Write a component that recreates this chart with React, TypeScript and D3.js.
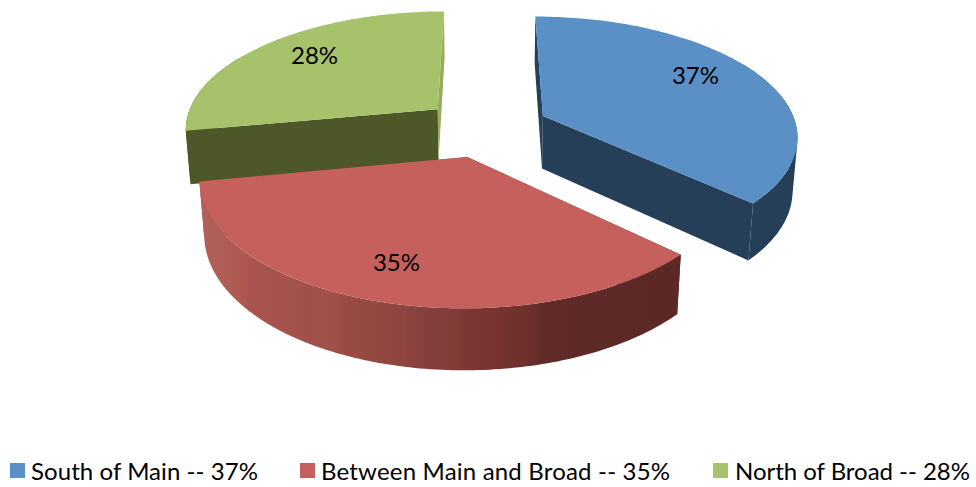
import React from 'react';
import * as d3 from 'd3';

const categories = ['South of Main', 'Between Main and Broad', 'North of Broad'];
const values = [37, 35, 28];
const topColors = ['#5b90c6', '#c6605c', '#a6c26a'];
const startFaceColors = ['#24405a', '#5c2825', '#4d5727'];
const endFaceColors = ['#253f59', '#8c4340', '#95ad5c'];
const outerColors = ['#253f59', 'url(#redRim)', '#4d5727'];

// shading along the red rim, read at these screen x positions
const redRimX = [205, 240, 252, 283, 312, 330, 345, 365, 393, 405, 430, 450, 470, 500, 530, 545, 680];
const redRimColors = ['#b0605a', '#ae5a50', '#aa534f', '#a5534c', '#a14f4a', '#a15248', '#9b4a44', '#974a42', '#924440', '#8f4540', '#843e3c', '#843f3a', '#7b3634', '#76332f', '#6c302c', '#5f2a27', '#5c2825'];
const rimOffset = d3.scaleLinear().domain([205, 680]).range([0, 1]);

// where the data labels sit on each slice, degrees clockwise from the back
const labelAngles = [60, 197.5, 313.5];
const labelRadius = 0.76;

const legendSwatchX = [10, 300, 713];
const legendTextX = [31, 321, 735];
const legendTextWidth = [227, 349, 235];

const width = 976;
const height = 487;
const explodeX = 0.25;
const explodeY = 0.25;

// perspective camera: x right, y to the back, z down
const cx = 485.5;
const cy = 127.5;
const scaleX = 254;
const scaleY = 118;
const scaleZ = 54;
const persY = 0.154;
const persZ = 0.016;

const project = (x: number, y: number, z: number): [number, number] => {
  const w = 1 + persY * y + persZ * z;
  return [cx + (x * scaleX) / w, cy + (-y * scaleY + z * scaleZ) / w];
};

const line = d3.line();

const pie = d3.pie<number>().sort(null);
const arcs = pie(values);

const App = () => {
  // back slices first so the red one overlaps the green rim
  const order = [2, 0, 1];

  return (
    <svg
      width={width}
      height={height}
      style={{ position: 'absolute', left: 0, top: 0, background: '#fff' }}
      fontFamily="Lato, 'Open Sans', sans-serif"
    >
      <defs>
        <linearGradient id="redRim" gradientUnits="userSpaceOnUse" x1={205} x2={680} y1={0} y2={0}>
          {redRimX.map((x, i) => (
            <stop key={x} offset={rimOffset(x)} stopColor={redRimColors[i]} />
          ))}
        </linearGradient>
      </defs>
      {order.map(i => {
        const a = arcs[i];
        const mid = (a.startAngle + a.endAngle) / 2;
        const ox = explodeX * Math.sin(mid);
        const oy = explodeY * Math.cos(mid);
        const rim = (t: number): [number, number] => [ox + Math.sin(t), oy + Math.cos(t)];
        const ts = d3.range(a.startAngle, a.endAngle, Math.PI / 180).concat(a.endAngle);
        const top = ts.map(t => project(...rim(t), 0));
        const apexTop = project(ox, oy, 0);
        const apexBottom = project(ox, oy, 1);
        const face = (t: number) => [apexTop, project(...rim(t), 0), project(...rim(t), 1), apexBottom] as [number, number][];

        // only the front of the rim can be seen; quads wound the same way so
        // the fold at the silhouette fills and there are no seams between steps
        const front = ts.filter(t => Math.cos(t) < 0.5);
        const rimPath = front
          .slice(1)
          .map((t, j) => {
            const quad: [number, number][] = [
              project(...rim(front[j]), 0),
              project(...rim(t), 0),
              project(...rim(t), 1),
              project(...rim(front[j]), 1),
            ];
            if (d3.polygonArea(quad) < 0) quad.reverse();
            return line(quad) + 'Z';
          })
          .join('');

        return (
          <g key={categories[i]}>
            <path d={line(face(a.startAngle)) + 'Z'} fill={startFaceColors[i]} />
            <path d={line(face(a.endAngle)) + 'Z'} fill={endFaceColors[i]} />
            <path d={rimPath} fill={outerColors[i]} />
            <path d={line([apexTop, ...top]) + 'Z'} fill={topColors[i]} />
          </g>
        );
      })}
      {order.map(i => {
        const a = arcs[i];
        const mid = (a.startAngle + a.endAngle) / 2;
        const t = (labelAngles[i] * Math.PI) / 180;
        const [lx, ly] = project(
          explodeX * Math.sin(mid) + labelRadius * Math.sin(t),
          explodeY * Math.cos(mid) + labelRadius * Math.cos(t),
          0,
        );
        return (
          <text key={i} x={lx} y={ly} textAnchor="middle" dominantBaseline="central" fontSize={24} fill="#000">
            {values[i]}%
          </text>
        );
      })}
      {categories.map((c, i) => (
        <g key={c}>
          <rect x={legendSwatchX[i]} y={463} width={15} height={15} fill={topColors[i]} />
          <text x={legendTextX[i]} y={480} fontSize={24} fill="#000" textLength={legendTextWidth[i]} lengthAdjust="spacing">
            {`${c} -- ${values[i]}%`}
          </text>
        </g>
      ))}
    </svg>
  );
};

export default App;
